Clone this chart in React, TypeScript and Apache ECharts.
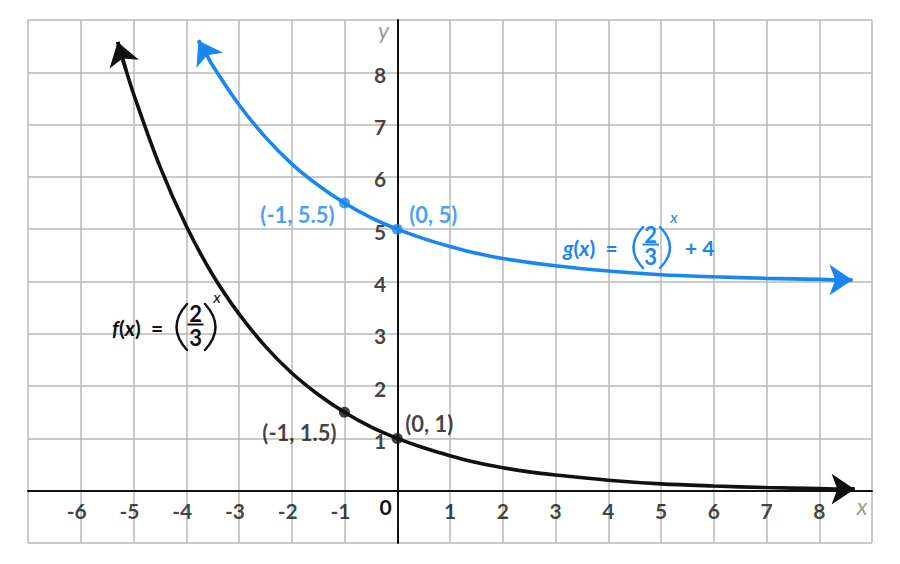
import React, { useEffect, useRef } from "react";
import * as echarts from "echarts";

// ---- data ----
const xTickValues = [-6, -5, -4, -3, -2, -1, 1, 2, 3, 4, 5, 6, 7, 8];
const yTickValues = [1, 2, 3, 4, 5, 6, 7, 8];

// f(x) = (2/3)^x
const fXs = [-5.3, -5.15, -5, -4.5, -4, -3.5, -3, -2.5, -2, -1.5, -1, -0.5, 0, 0.5, 1, 1.5, 2, 2.5, 3, 4, 5, 6, 7, 8, 8.5, 8.67];
const fYs = [8.58, 8.07, 7.59, 6.2, 5.06, 4.13, 3.38, 2.76, 2.25, 1.84, 1.5, 1.22, 1.0, 0.82, 0.67, 0.54, 0.44, 0.36, 0.3, 0.2, 0.13, 0.09, 0.06, 0.04, 0.03, 0.03];

// g(x) = (2/3)^x + 4
const gXs = [-3.77, -3.6, -3.5, -3, -2.5, -2, -1.5, -1, -0.5, 0, 0.5, 1, 1.5, 2, 3, 4, 5, 6, 7, 8, 8.45, 8.63];
const gYs = [8.61, 8.31, 8.13, 7.38, 6.76, 6.25, 5.84, 5.5, 5.22, 5.0, 4.82, 4.67, 4.54, 4.44, 4.3, 4.2, 4.13, 4.09, 4.06, 4.04, 4.03, 4.03];

const fPointXs = [-1, 0];
const fPointYs = [1.5, 1];
const fPointLabels = ["(-1, 1.5)", "(0, 1)"];

const gPointXs = [-1, 0];
const gPointYs = [5.5, 5];
const gPointLabels = ["(-1, 5.5)", "(0, 5)"];

// ---- styles ----
const BLACK = "#111111";
const BLUE = "#1a86f2";
const GRID = "#b9b9b9";
const FONT = "Lato, 'Open Sans', sans-serif";
const WEIGHT = "bold";
const FS = 21;
const PFS = 22;

const fLabelOffsets: [number, number][] = [[-45, 20], [32, -15]];
const gLabelOffsets: [number, number][] = [[-47, 11], [36, -15]];

function zip(xs: number[], ys: number[]) {
  return xs.map((x, i) => [x, ys[i]]);
}

function arrowEnds(pts: number[][]) {
  const n = pts.length;
  return [
    [{ coord: pts[1] }, { coord: pts[0] }],
    [{ coord: pts[n - 2] }, { coord: pts[n - 1] }],
  ];
}

function curveSeries(name: string, pts: number[][], color: string) {
  return {
    name,
    type: "line",
    data: pts,
    smooth: 0.35,
    symbol: "none",
    lineStyle: { color, width: 3.6 },
    z: 5,
    markLine: {
      silent: true,
      symbol: ["none", "arrow"],
      symbolSize: 23,
      label: { show: false },
      lineStyle: { color, width: 3.6, type: "solid" },
      data: arrowEnds(pts),
    },
  };
}

function pointSeries(xs: number[], ys: number[], labels: string[], offsets: [number, number][], color: string) {
  return {
    type: "scatter",
    symbol: "circle",
    symbolSize: 11,
    itemStyle: { color },
    z: 6,
    data: xs.map((x, i) => ({
      value: [x, ys[i]],
      label: {
        show: true,
        position: "inside",
        offset: offsets[i],
        formatter: labels[i],
        color,
        fontFamily: FONT,
        fontSize: PFS,
        fontWeight: WEIGHT,
        align: "center",
        verticalAlign: "middle",
      },
    })),
  };
}

function tickLabelSeries() {
  const items: any[] = [];
  xTickValues.forEach((v) => {
    items.push({
      value: [v, 0],
      label: {
        show: true,
        position: "inside",
        offset: [v < 0 ? -4 : 0, 20],
        formatter: String(v),
        color: BLACK,
        fontFamily: FONT,
        fontSize: FS,
        fontWeight: WEIGHT,
        align: "center",
        verticalAlign: "middle",
      },
    });
  });
  yTickValues.forEach((v) => {
    items.push({
      value: [0, v],
      label: {
        show: true,
        position: "inside",
        offset: [-11, 2],
        formatter: String(v),
        color: BLACK,
        fontFamily: FONT,
        fontSize: FS,
        fontWeight: WEIGHT,
        align: "right",
        verticalAlign: "middle",
      },
    });
  });
  return {
    type: "scatter",
    symbol: "circle",
    symbolSize: 1,
    silent: true,
    z: 4,
    itemStyle: { color: "rgba(0,0,0,0)" },
    data: items,
  };
}

function txt(text: string, x: number, y: number, color: string, opts: any = {}) {
  return {
    type: "text",
    x,
    y,
    z: 20,
    style: {
      text,
      fill: color,
      fontFamily: FONT,
      fontSize: FS,
      fontWeight: WEIGHT,
      align: "center",
      verticalAlign: "middle",
      ...opts,
    },
  };
}

function paren(xEnd: number, xPeak: number, yTop: number, yBot: number, color: string) {
  return {
    type: "bezierCurve",
    z: 20,
    shape: { x1: xEnd, y1: yTop, x2: xEnd, y2: yBot, cpx1: 2 * xPeak - xEnd, cpy1: (yTop + yBot) / 2 },
    style: { stroke: color, lineWidth: 2.4, fill: null, lineCap: "round" },
  };
}

function bar(x1: number, x2: number, y: number, color: string) {
  return {
    type: "line",
    z: 20,
    shape: { x1, y1: y, x2, y2: y },
    style: { stroke: color, lineWidth: 2 },
  };
}

const italicRich = (color: string) => ({
  i: { fontStyle: "italic", fill: color, color, fontFamily: FONT, fontSize: FS, fontWeight: WEIGHT },
  n: { fill: color, color, fontFamily: FONT, fontSize: FS, fontWeight: WEIGHT },
});

function formulaGraphics() {
  return [
    // f(x) = (2/3)^x
    txt("{i|f}{n|(}{i|x}{n|)  =}", 112, 327, BLACK, { align: "left", rich: italicRich(BLACK) }),
    paren(187, 176.5, 304, 350, BLACK),
    txt("2\n3", 195.5, 325.5, BLACK, { fontSize: 22, lineHeight: 23.5 }),
    bar(187.5, 203.5, 324.5, BLACK),
    paren(205, 215.5, 304, 350, BLACK),
    txt("x", 217, 296, BLACK, { fontSize: 16, fontStyle: "italic", fontWeight: "normal" }),
    // g(x) = (2/3)^x + 4
    txt("{i|g}{n|(}{i|x}{n|)  =}", 563, 247, BLUE, { align: "left", rich: italicRich(BLUE) }),
    paren(643, 633.5, 227, 268, BLUE),
    txt("2\n3", 650.5, 245, BLUE, { fontSize: 22, lineHeight: 22 }),
    bar(642.5, 659, 244.5, BLUE),
    paren(660, 670, 227, 268, BLUE),
    txt("x", 674, 216, BLUE, { fontSize: 16, fontStyle: "italic", fontWeight: "normal" }),
    txt("+ 4", 685, 247, BLUE, { align: "left" }),
    // axis names and origin
    txt("0", 385.5, 506, BLACK),
    txt("x", 862, 506, "#9a9a9a", { fontStyle: "italic", fontWeight: "normal", fontSize: 23 }),
    txt("y", 383.5, 30, "#9a9a9a", { fontStyle: "italic", fontWeight: "normal", fontSize: 23 }),
  ];
}

export default function App() {
  const ref = useRef<HTMLDivElement>(null);

  useEffect(() => {
    if (!ref.current) return;
    const chart = echarts.init(ref.current, null, { renderer: "svg" });
    const fPts = zip(fXs, fYs);
    const gPts = zip(gXs, gYs);

    chart.setOption({
      animation: false,
      backgroundColor: "#ffffff",
      grid: { left: 28, right: 28, top: 20, bottom: 21, containLabel: false, outerBoundsMode: "none" },
      xAxis: {
        type: "value",
        min: -7,
        max: 9,
        interval: 1,
        axisLine: { show: true, onZero: true, lineStyle: { color: BLACK, width: 2 } },
        axisTick: { show: false },
        axisLabel: { show: false },
        splitLine: { show: true, lineStyle: { color: GRID, width: 1.5 } },
      },
      yAxis: {
        type: "value",
        min: -1,
        max: 9,
        interval: 1,
        axisLine: { show: true, onZero: true, lineStyle: { color: BLACK, width: 2 } },
        axisTick: { show: false },
        axisLabel: { show: false },
        splitLine: { show: true, lineStyle: { color: GRID, width: 1.5 } },
      },
      series: [
        tickLabelSeries(),
        curveSeries("f", fPts, BLACK),
        curveSeries("g", gPts, BLUE),
        pointSeries(fPointXs, fPointYs, fPointLabels, fLabelOffsets, BLACK),
        pointSeries(gPointXs, gPointYs, gPointLabels, gLabelOffsets, BLUE),
      ],
      graphic: formulaGraphics(),
    });

    return () => chart.dispose();
  }, []);

  return (
    <div
      ref={ref}
      style={{ position: "absolute", left: 0, top: 0, width: 900, height: 564, background: "#fff" }}
    />
  );
}
